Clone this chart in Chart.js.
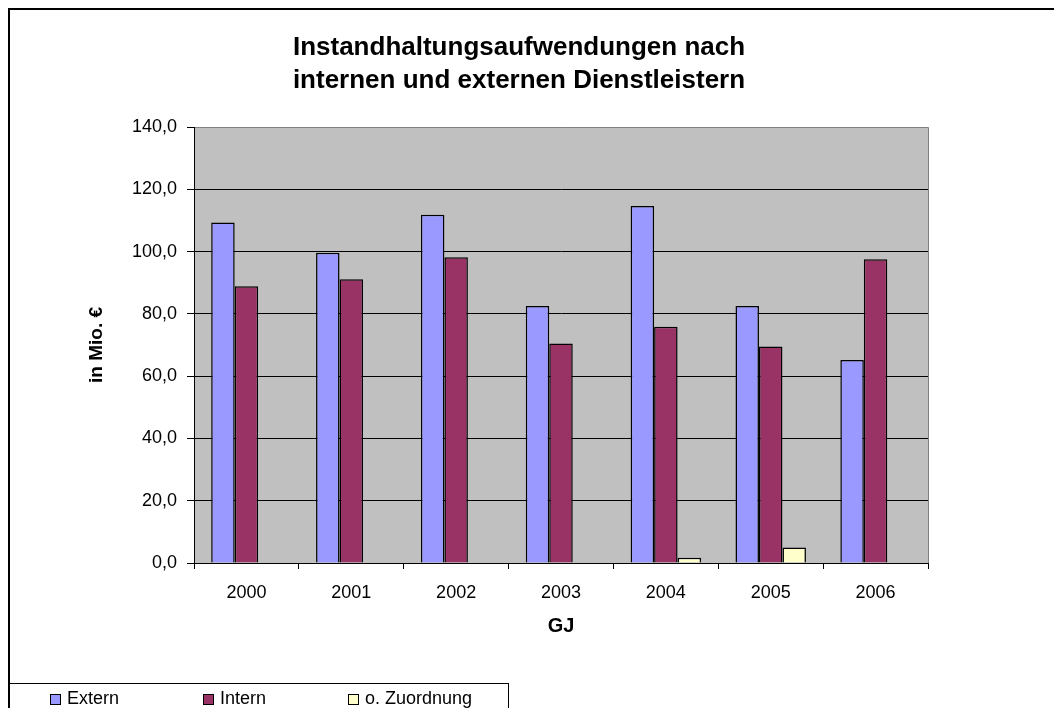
<!DOCTYPE html>
<html>
<head>
<meta charset="utf-8">
<script src="https://cdn.jsdelivr.net/npm/chart.js@4.4.0/dist/chart.umd.min.js"></script>
<style>
  html, body { margin: 0; padding: 0; background: #fff; }
  #wrap { width: 1054px; height: 708px; }
</style>
</head>
<body>
<div id="wrap"><canvas id="chart" width="1054" height="708"></canvas></div>
<script>
'use strict';
// data
var years = ['2000', '2001', '2002', '2003', '2004', '2005', '2006'];
var extern = [109.3, 99.6, 111.8, 82.5, 114.6, 82.5, 65.2];
var intern = [88.9, 91.1, 98.2, 70.5, 75.9, 69.5, 97.5];
var ohneZuordnung = [0, 0, 0, 0, 1.7, 5.0, 0];
var titleLines = ['Instandhaltungsaufwendungen nach', 'internen und externen Dienstleistern'];
var FONT = '"Liberation Sans", Arial, sans-serif';

// frame, plot background, title, legend
var decor = {
  id: 'decor',
  beforeDraw: function (chart) {
    var ctx = chart.ctx;
    var a = chart.chartArea;
    ctx.save();
    ctx.fillStyle = '#fff';
    ctx.fillRect(0, 0, chart.width, chart.height);
    ctx.strokeStyle = '#000';
    ctx.lineWidth = 2;
    ctx.strokeRect(9, 9, chart.width + 20, chart.height + 20);
    ctx.fillStyle = '#c0c0c0';
    ctx.fillRect(a.left, a.top, a.right - a.left, a.bottom - a.top);
    ctx.strokeStyle = '#808080';
    ctx.lineWidth = 1;
    ctx.beginPath();
    ctx.moveTo(a.left, a.top + 0.5);
    ctx.lineTo(a.right + 0.5, a.top + 0.5);
    ctx.lineTo(a.right + 0.5, a.bottom);
    ctx.stroke();
    ctx.restore();
  },
  afterDraw: function (chart) {
    var ctx = chart.ctx;
    ctx.save();
    ctx.fillStyle = '#000';
    ctx.font = 'bold 26px ' + FONT;
    ctx.textAlign = 'center';
    ctx.textBaseline = 'alphabetic';
    ctx.fillText(titleLines[0], 519, 55);
    ctx.fillText(titleLines[1], 519, 88);

    // legend box
    ctx.strokeStyle = '#000';
    ctx.lineWidth = 1;
    ctx.strokeRect(8.5, 683.5, 500, 40);
    var xs = [50, 203, 348];
    ctx.font = '18px ' + FONT;
    ctx.textAlign = 'left';
    ctx.textBaseline = 'middle';
    chart.data.datasets.forEach(function (ds, i) {
      ctx.fillStyle = ds.backgroundColor;
      ctx.fillRect(xs[i] + 0.5, 694.5, 10, 10);
      ctx.strokeRect(xs[i] + 0.5, 694.5, 10, 10);
      ctx.fillStyle = '#000';
      ctx.fillText(ds.label, xs[i] + 17, 699);
    });
    ctx.restore();
  }
};

var ctx = document.getElementById('chart').getContext('2d');
new Chart(ctx, {
  type: 'bar',
  data: {
    labels: years,
    datasets: [
      { label: 'Extern', data: extern, backgroundColor: '#9999ff', borderColor: '#000', borderWidth: 1.5 },
      { label: 'Intern', data: intern, backgroundColor: '#993366', borderColor: '#000', borderWidth: 1.5 },
      { label: 'o. Zuordnung', data: ohneZuordnung, backgroundColor: '#ffffcc', borderColor: '#000', borderWidth: 1.5 }
    ]
  },
  options: {
    responsive: false,
    animation: false,
    layout: { padding: { left: 0, top: 127, right: 126, bottom: 40 } },
    datasets: { bar: { categoryPercentage: 0.672, barPercentage: 1 } },
    plugins: {
      legend: { display: false },
      title: { display: false },
      tooltip: { enabled: false }
    },
    scales: {
      x: {
        afterFit: function (s) { s.height = 105; },
        grid: { offset: true, drawOnChartArea: false, drawTicks: true, tickLength: 6, tickColor: '#000' },
        border: { color: '#000', width: 1 },
        ticks: { color: '#000', font: { family: FONT, size: 18 }, padding: 13 },
        title: { display: true, text: 'GJ', color: '#000', font: { family: FONT, size: 20, weight: 'bold' }, padding: { top: 0, bottom: 30 } }
      },
      y: {
        min: 0,
        max: 140,
        afterFit: function (s) { s.width = 194; },
        ticks: {
          stepSize: 20,
          color: '#000',
          padding: 10,
          font: { family: FONT, size: 18 },
          callback: function (v) { return v.toFixed(1).replace('.', ','); }
        },
        grid: {
          color: function (c) { return c.tick && c.tick.value === 140 ? 'rgba(0,0,0,0)' : '#000'; },
          lineWidth: 1,
          tickLength: 7,
          tickColor: '#000'
        },
        border: { color: '#000', width: 1 },
        title: { display: true, text: 'in Mio. €', color: '#000', font: { family: FONT, size: 19, weight: 'bold' }, padding: { top: 85, bottom: 0 } }
      }
    }
  },
  plugins: [decor]
});
</script>
</body>
</html>
